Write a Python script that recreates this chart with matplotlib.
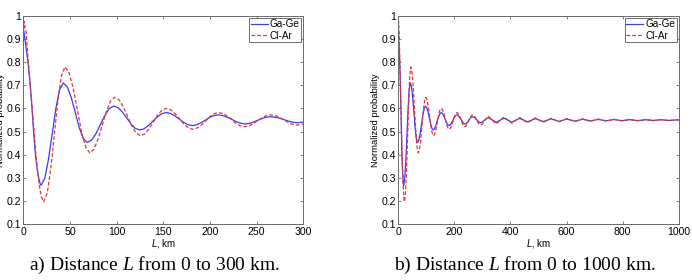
import matplotlib
matplotlib.use("Agg")
import matplotlib.pyplot as plt
import numpy as np

plt.rcParams['font.family'] = ['Liberation Sans', 'DejaVu Sans']
plt.rcParams['mathtext.fontset'] = 'custom'
plt.rcParams['mathtext.it'] = 'Liberation Serif:italic'
plt.rcParams['mathtext.rm'] = 'Liberation Serif'
plt.rcParams['mathtext.sf'] = 'Liberation Sans:italic'

# Ga-Ge, 0..300 km
L_gage = [0, 2, 5, 7, 9.3, 11, 13, 15, 16.5, 18, 19,
          23.0, 26.9, 30.9, 34.9, 38.8, 42.8,
          47.1, 51.4, 55.7, 59.9, 64.2, 68.5,
          73.3, 78.0, 82.8, 87.5, 92.3, 97.0,
          101.6, 106.2, 110.8, 115.3, 119.9, 124.5,
          129.3, 134.0, 138.8, 143.5, 148.3, 153.0,
          157.7, 162.3, 167.0, 171.7, 176.3, 181.0,
          185.7, 190.3, 195.0, 199.7, 204.3, 209.0,
          213.8, 218.5, 223.3, 228.0, 232.8, 237.5,
          242.1, 246.7, 251.3, 255.8, 260.4, 265.0,
          269.8, 274.7, 279.5, 284.3, 289.2, 294.0, 300]
v_gage = [0.950, 0.890, 0.800, 0.720, 0.600, 0.500, 0.400, 0.335, 0.300, 0.275, 0.268,
          0.298, 0.379, 0.489, 0.600, 0.680, 0.710,
          0.693, 0.646, 0.582, 0.517, 0.470, 0.453,
          0.464, 0.492, 0.532, 0.571, 0.600, 0.610,
          0.603, 0.584, 0.559, 0.533, 0.514, 0.507,
          0.512, 0.526, 0.545, 0.563, 0.577, 0.582,
          0.578, 0.568, 0.554, 0.540, 0.530, 0.526,
          0.529, 0.538, 0.549, 0.561, 0.569, 0.572,
          0.569, 0.562, 0.553, 0.543, 0.536, 0.533,
          0.535, 0.541, 0.549, 0.556, 0.562, 0.564,
          0.562, 0.558, 0.551, 0.545, 0.540, 0.538, 0.541]

# Cl-Ar, 0..300 km
L_clar = [0, 1, 2, 3, 5, 7, 9.5, 11.5, 13.5, 15.5, 17.5, 19.5, 21.9,
          25.7, 29.5, 33.3, 37.0, 40.8, 44.6,
          49.0, 53.5, 57.9, 62.3, 66.8, 71.2,
          75.7, 80.1, 84.6, 89.1, 93.5, 98.0,
          102.6, 107.2, 111.8, 116.3, 120.9, 125.5,
          130.1, 134.7, 139.3, 143.8, 148.4, 153.0,
          157.8, 162.5, 167.3, 172.0, 176.8, 181.5,
          186.1, 190.7, 195.3, 199.8, 204.4, 209.0,
          213.7, 218.3, 223.0, 227.7, 232.3, 237.0,
          241.7, 246.3, 251.0, 255.7, 260.3, 265.0,
          269.8, 274.5, 279.3, 284.0, 288.8, 293.5, 300]
v_clar = [0.940, 0.975, 0.945, 0.930, 0.820, 0.720, 0.600, 0.500, 0.400, 0.320, 0.260, 0.215, 0.197,
          0.236, 0.343, 0.488, 0.634, 0.740, 0.779,
          0.754, 0.686, 0.594, 0.501, 0.433, 0.408,
          0.424, 0.468, 0.528, 0.588, 0.632, 0.648,
          0.637, 0.607, 0.565, 0.524, 0.493, 0.482,
          0.490, 0.512, 0.541, 0.571, 0.592, 0.600,
          0.594, 0.578, 0.555, 0.533, 0.516, 0.510,
          0.515, 0.528, 0.546, 0.564, 0.577, 0.582,
          0.578, 0.567, 0.552, 0.536, 0.525, 0.521,
          0.524, 0.534, 0.547, 0.559, 0.569, 0.572,
          0.569, 0.561, 0.550, 0.539, 0.531, 0.528, 0.533]

# 300..1000 km tail
L_tail = [307, 321, 335, 349, 363, 377, 391, 405, 419, 433, 447, 461, 475, 489,
          503, 517, 531, 545, 559, 573, 587, 601, 615, 629, 643, 657, 671, 685,
          699, 713, 727, 741, 755, 769, 783, 797, 811, 825, 839, 853, 867, 881,
          895, 909, 923, 937, 951, 965, 979, 993, 1000]
v_gage_tail = [0.549, 0.560, 0.550, 0.540, 0.549, 0.558, 0.5495, 0.541, 0.549, 0.557,
               0.5495, 0.542, 0.549, 0.556, 0.5495, 0.543, 0.549, 0.555, 0.5495, 0.544,
               0.549, 0.554, 0.5495, 0.545, 0.549, 0.553, 0.5495, 0.546, 0.549, 0.5525,
               0.5495, 0.5465, 0.549, 0.552, 0.5495, 0.547, 0.549, 0.5515, 0.5495, 0.5475,
               0.549, 0.551, 0.5495, 0.548, 0.5495, 0.551, 0.5495, 0.548, 0.549, 0.5505, 0.550]
v_clar_tail = [0.547, 0.566, 0.5495, 0.533, 0.548, 0.563, 0.5495, 0.536, 0.5485, 0.561,
               0.5495, 0.538, 0.5485, 0.559, 0.5495, 0.540, 0.5485, 0.557, 0.5495, 0.542,
               0.549, 0.556, 0.5495, 0.543, 0.549, 0.555, 0.5495, 0.544, 0.549, 0.554,
               0.5495, 0.545, 0.549, 0.553, 0.5495, 0.546, 0.549, 0.5525, 0.5495, 0.5465,
               0.549, 0.552, 0.5495, 0.547, 0.549, 0.5515, 0.5495, 0.5475, 0.549, 0.551, 0.5505]

yticks = [0.1, 0.2, 0.3, 0.4, 0.5, 0.6, 0.7, 0.8, 0.9, 1.0]
ytick_labels = ['0.1', '0.2', '0.3', '0.4', '0.5', '0.6', '0.7', '0.8', '0.9', '1']
xticks_a = [0, 50, 100, 150, 200, 250, 300]
xticks_b = [0, 200, 400, 600, 800, 1000]
captions = ['a) Distance $L$ from 0 to 300 km.', 'b) Distance $L$ from 0 to 1000 km.']

blue = '#3b3bf0'
red = '#e8333a'
spine = '#6a6a6a'

fig = plt.figure(figsize=(6.92, 2.8), dpi=100)
ax1 = fig.add_axes([0.0337, 0.199, 0.4046, 0.745])
ax2 = fig.add_axes([0.5756, 0.199, 0.4052, 0.745])

ax1.plot(L_gage, v_gage, color=blue, lw=0.9, label='Ga-Ge')
ax1.plot(L_clar, v_clar, color=red, lw=0.9, ls=(0, (3, 1.6)), label='Cl-Ar')

ax2.plot(L_gage + L_tail, v_gage + v_gage_tail, color=blue, lw=0.9, label='Ga-Ge')
ax2.plot(L_clar + L_tail, v_clar + v_clar_tail, color=red, lw=0.9, ls=(0, (3, 1.6)), label='Cl-Ar')

for ax, xt, xmax in [(ax1, xticks_a, 300), (ax2, xticks_b, 1000)]:
    ax.set_xlim(0, xmax)
    ax.set_ylim(0.1, 1.0)
    ax.set_xticks(xt)
    ax.set_xticklabels([str(t) for t in xt])
    ax.set_yticks(yticks)
    ax.set_yticklabels(ytick_labels)
    ax.tick_params(direction='in', length=2.5, width=0.6, color=spine,
                   labelsize=7.6, top=True, right=True, pad=2)
    ax.tick_params(axis='y', pad=1.5)
    for s in ax.spines.values():
        s.set_color(spine)
        s.set_linewidth(0.7)
    ax.set_xlabel(r'$\mathsf{L}$, km', fontsize=7, labelpad=0.3)
    ax.set_ylabel('Normalized probability', fontsize=6.8)
    ax.yaxis.set_label_coords(-0.064, 0.5)
    leg = ax.legend(loc='upper right', fontsize=7.2, frameon=True, fancybox=False,
                    framealpha=1, edgecolor='#555555', handlelength=1.7,
                    handletextpad=0.2, borderpad=0.15, labelspacing=0.15,
                    borderaxespad=0.2)
    leg.get_frame().set_linewidth(0.6)

fig.text(0.2233, 0.0357, captions[0], fontsize=14, family='Liberation Serif',
         ha='center', va='baseline')
fig.text(0.758, 0.0357, captions[1], fontsize=14, family='Liberation Serif',
         ha='center', va='baseline')

fig.savefig('out.png', dpi=100)
